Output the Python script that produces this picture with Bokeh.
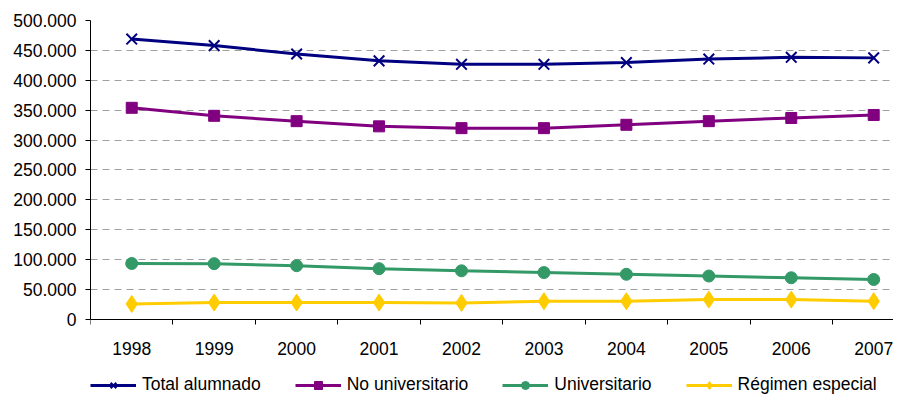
from bokeh.plotting import figure
from bokeh.models import Range1d, FixedTicker, Legend, LegendItem, ColumnDataSource
from bokeh.embed import file_html
from bokeh.resources import INLINE

years = [1998, 1999, 2000, 2001, 2002, 2003, 2004, 2005, 2006, 2007]
total_alumnado = [469000, 458000, 444000, 432500, 426700, 426700, 429600, 435500, 438400, 437500]
no_universitario = [354000, 340600, 331700, 323000, 320000, 320000, 325600, 331700, 337000, 342000]
universitario = [93600, 93400, 90000, 85000, 81400, 78500, 75600, 72700, 69800, 66900]
regimen_especial = [26100, 28300, 28300, 28300, 27800, 30600, 30600, 33300, 33300, 30600]
y_ticks = [0, 50000, 100000, 150000, 200000, 250000, 300000, 350000, 400000, 450000, 500000]

FONT = "Liberation Sans"
FS = "17.5px"

src = ColumnDataSource(dict(x=years, total=total_alumnado, nouni=no_universitario,
                            uni=universitario, reg=regimen_especial))

# frame spans the full lower area; the x axis is pinned at y = 0 inside it
p = figure(width=893, height=396, output_backend="svg", toolbar_location=None,
           x_range=Range1d(1997.5, 2007.24), y_range=Range1d(-128763, 500000),
           min_border_left=90, min_border_right=0, min_border_top=20, min_border_bottom=0)
p.outline_line_color = None
p.background_fill_color = "white"

series = [
    ("Total alumnado", "total", "#000080", "x", 15),
    ("No universitario", "nouni", "#800080", "square", 11),
    ("Universitario", "uni", "#339966", "circle", 12),
    ("Régimen especial", "reg", "#FFCC00", "diamond", 17),
]
items = []
for label, col, color, marker, size in series:
    ln = p.line("x", col, source=src, line_color=color, line_width=3)
    sc = p.scatter("x", col, source=src, marker=marker, size=size,
                   line_color=color, fill_color=color,
                   line_width=2 if marker == "x" else 1)
    items.append(LegendItem(label=label, renderers=[ln, sc]))

# axes
p.xaxis.fixed_location = 0
p.xaxis.ticker = FixedTicker(ticks=years, minor_ticks=[y - 0.5 for y in years] + [2007.5])
p.xaxis.major_label_overrides = {y: str(y) for y in years}
p.xaxis.major_tick_out = 0
p.xaxis.major_tick_in = 0
p.xaxis.minor_tick_out = 5
p.xaxis.minor_tick_in = 0
p.xaxis.major_label_standoff = 18

p.yaxis.ticker = FixedTicker(ticks=y_ticks, minor_ticks=[])
p.yaxis.bounds = (0, 500000)
p.yaxis.major_label_overrides = {t: f"{t:,}".replace(",", ".") for t in y_ticks}
p.yaxis.major_tick_out = 5
p.yaxis.major_tick_in = 0
p.yaxis.major_label_standoff = 9

for ax in (p.xaxis, p.yaxis):
    ax.axis_line_color = "black"
    ax.axis_line_width = 1
    ax.major_tick_line_color = "black"
    ax.minor_tick_line_color = "black"
    ax.major_label_text_font = FONT
    ax.major_label_text_font_size = FS
    ax.major_label_text_color = "black"

p.xgrid.grid_line_color = None
p.ygrid.grid_line_color = "#a0a0a0"
p.ygrid.grid_line_dash = "7 5"
p.ygrid.grid_line_width = 1

legend = Legend(items=items, orientation="horizontal", location=(0, 1),
                glyph_width=46, glyph_height=20, label_standoff=6, spacing=34,
                padding=0, margin=0, border_line_alpha=0, background_fill_alpha=0,
                label_text_font=FONT, label_text_font_size=FS, label_text_color="black",
                label_height=20)
p.add_layout(legend, "center")

open("out.html", "w").write(file_html(p, INLINE))
